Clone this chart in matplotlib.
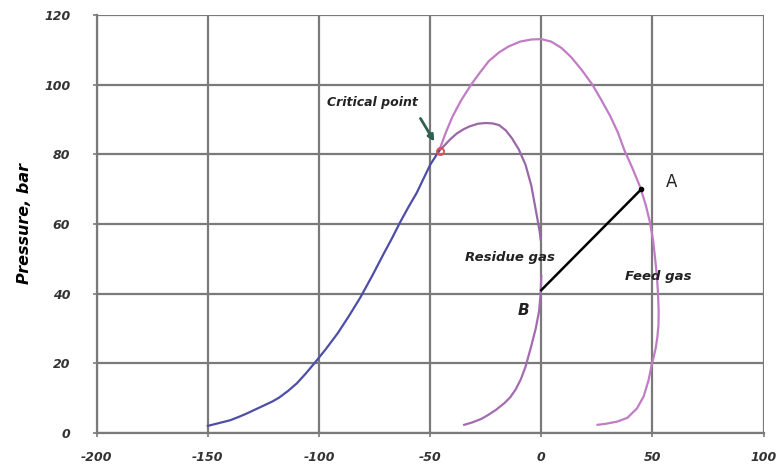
import numpy as np
import matplotlib.pyplot as plt

plt.rcParams['axes.unicode_minus'] = False

# vapour pressure line (blue), temperature C / pressure bar
vp_t = [-150, -145, -140, -136, -132.7, -128, -125, -121, -118, -114, -110, -106, -101.8, -97, -91.6,
        -86.5, -81.3, -76, -70.7, -67, -63.6, -60, -56, -53, -50, -46]
vp_p = [2.0, 2.8, 3.6, 4.6, 5.5, 6.9, 7.8, 9.0, 10.1, 12.0, 14.2, 17.0, 20.2, 24.0, 28.6,
        33.6, 39.0, 45.2, 51.7, 56.1, 60.4, 64.6, 69.0, 73.0, 77.0, 81.0]

# feed gas envelope
feed_t = [-46, -43, -40, -36, -31.6, -27.5, -23.6, -19, -14.7, -9.5, -4.4, 0, 4.4, 9, 13.3, 18, 23, 27, 31,
          34.5, 37.3, 41, 44.4, 47, 48.9, 50.3, 51.2, 52, 52.5, 52.8,
          52.7, 52.2, 51.5, 50.7, 49.8, 48.2, 46, 43, 38.7, 34, 29, 25.3]
feed_p = [81.0, 86.2, 90.8, 95.6, 100, 103.6, 106.8, 109.3, 111, 112.4, 113, 113.1, 112.4, 110.6, 108, 104.4, 100, 95.6, 91,
          86.2, 81.3, 76, 70.7, 65.4, 60.4, 55.2, 50, 45, 40, 35,
          31, 27.5, 24.5, 22.2, 20, 15, 10.4, 7.0, 4.3, 3.2, 2.6, 2.3]

# residue gas envelope, upper part and lower part
res_t_up = [-46, -44.4, -41, -38, -35, -32.4, -28.5, -25, -22, -19, -16, -13.3, -10.2, -7.1, -4.5, -2.2,
            -0.8, -0.3]
res_p_up = [81.0, 82, 84.3, 86, 87.2, 88, 88.8, 89, 88.9, 88.4, 86.9, 84.7, 81.5, 77, 71, 63,
            58, 55.5]
res_t_lo = [0, -0.3, -1, -2.5, -4.5, -7.1, -9.2, -11.6, -14, -16.5, -20.4, -24, -27, -31, -34.7]
res_p_lo = [45, 40, 35, 30, 25, 19, 15.4, 12.4, 10.2, 8.6, 6.6, 5.1, 4.0, 3.0, 2.3]

crit = (-45.5, 81)
pt_a = (45, 70)
pt_b = (0, 41)

xticks = [-200, -150, -100, -50, 0, 50, 100]
yticks = [0, 20, 40, 60, 80, 100, 120]

fig = plt.figure(figsize=(7.8, 4.72), dpi=100)
ax = fig.add_axes([0.124, 0.083, 0.855, 0.885])

ax.set_xlim(-200, 100)
ax.set_ylim(0, 120)
ax.set_xticks(xticks)
ax.set_yticks(yticks)
ax.grid(True, color='#7a7a7a', lw=1.6)
ax.set_axisbelow(True)
for s in ['top', 'right']:
    ax.spines[s].set_visible(False)
for s in ['left', 'bottom']:
    ax.spines[s].set_color('#7a7a7a')
    ax.spines[s].set_linewidth(1.6)
ax.tick_params(length=3, width=1.2, color='#7a7a7a', pad=10)
for lab in ax.get_xticklabels() + ax.get_yticklabels():
    lab.set_fontweight('bold')
    lab.set_fontstyle('italic')
    lab.set_fontsize(9)
    lab.set_color('#333333')
ax.tick_params(axis='y', pad=16)

ax.set_ylabel('Pressure, bar', fontsize=11.5, fontweight='bold', fontstyle='italic', labelpad=9)

ax.plot(feed_t, feed_p, color='#c07cc4', lw=1.6)
ax.plot(res_t_up, res_p_up, color='#9a68a8', lw=1.6)
ax.plot(res_t_lo, res_p_lo, color='#a46cb0', lw=1.6)
ax.plot(vp_t, vp_p, color='#4e4ea6', lw=1.6)

ax.plot(crit[0], crit[1], 'o', ms=5, mfc='none', mec='#e05050', mew=1.4)
ax.annotate('', xy=(-47.5, 83), xytext=(-55, 91),
            arrowprops=dict(arrowstyle='-|>', color='#2f6050', lw=2, mutation_scale=9))

ax.plot([pt_b[0], pt_a[0]], [pt_b[1], pt_a[1]], color='black', lw=1.8)
ax.plot(pt_a[0], pt_a[1], 'o', color='black', ms=3)

ax.text(-76, 94.8, 'Critical point', fontsize=9, fontweight='bold', fontstyle='italic',
        color='#222222', ha='center', va='center')
ax.text(-14, 50.5, 'Residue gas', fontsize=9.5, fontweight='bold', fontstyle='italic',
        color='#222222', ha='center', va='center')
ax.text(52.7, 44.8, 'Feed gas', fontsize=9.5, fontweight='bold', fontstyle='italic',
        color='#222222', ha='center', va='center')
ax.text(58.5, 72, 'A', fontsize=12, color='#222222', ha='center', va='center')
ax.text(-8, 35, 'B', fontsize=11, fontweight='bold', fontstyle='italic',
        color='#222222', ha='center', va='center')

fig.savefig('out.png', dpi=100)
